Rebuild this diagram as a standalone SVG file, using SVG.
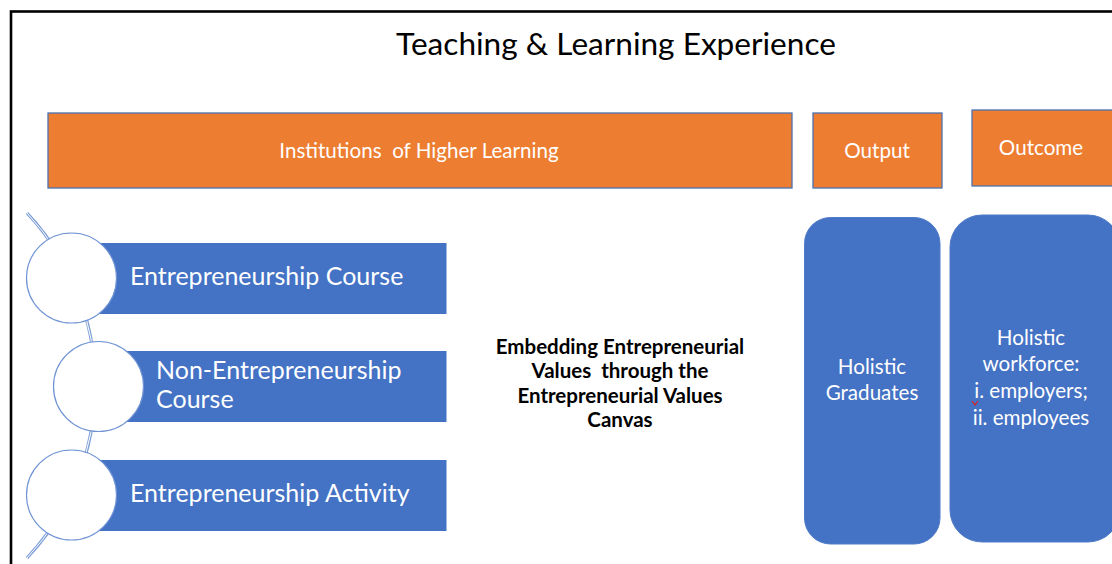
<svg xmlns="http://www.w3.org/2000/svg" width="1112" height="564" viewBox="0 0 1112 564">
<style>
.t{font-family:Lato,"Open Sans","Liberation Sans",sans-serif;white-space:pre;}
.hdr{fill:#ED7D31;stroke:#4A72B0;stroke-width:1.3;}
.wt{fill:#FFFFFF;font-size:20.6px;text-anchor:middle;}
.bar{fill:#4472C4;}
.bt{fill:#FFFFFF;font-size:25px;}
.circ{fill:#FFFFFF;stroke:#6F93D4;stroke-width:1.2;}
.rr{fill:#4472C4;stroke:#4F7AC8;stroke-width:1;}
.ct{fill:#000000;font-size:20.5px;font-weight:bold;text-anchor:middle;}
</style>
<rect x="11" y="11.5" width="1120" height="580" fill="#FFFFFF" stroke="#000000" stroke-width="2.6"/>
<text class="t" x="616" y="55" font-size="31.6" text-anchor="middle" fill="#000000">Teaching &amp; Learning Experience</text>

<g id="connectors">
<path d="M27,213 A252 252 0 0 1 27,558" fill="none" stroke="#7F9FD8" stroke-width="3.2"/>
<path d="M27,213 A252 252 0 0 1 27,558" fill="none" stroke="#FFFFFF" stroke-width="1"/>
</g>

<g id="institutions">
<rect class="hdr" x="48" y="113" width="744" height="75"/>
<text class="t wt" x="419" y="158" xml:space="preserve">Institutions  of Higher Learning</text>
</g>
<g id="output">
<rect class="hdr" x="813" y="113" width="129" height="75"/>
<text class="t wt" x="877" y="158">Output</text>
</g>
<g id="outcome">
<rect class="hdr" x="972" y="110" width="145" height="76"/>
<text class="t wt" x="1041" y="155">Outcome</text>
</g>

<g id="entrepreneurship-course">
<rect class="bar" x="100" y="243" width="346.5" height="71"/>
<circle class="circ" cx="71.5" cy="278" r="45"/>
<text class="t bt" x="130" y="285">Entrepreneurship Course</text>
</g>
<g id="non-entrepreneurship-course">
<rect class="bar" x="127" y="351" width="319.5" height="71"/>
<circle class="circ" cx="98.5" cy="386.5" r="45"/>
<text class="t bt" x="156" y="379">Non-Entrepreneurship</text>
<text class="t bt" x="156" y="408">Course</text>
</g>
<g id="entrepreneurship-activity">
<rect class="bar" x="100" y="460" width="346.5" height="71"/>
<circle class="circ" cx="71.5" cy="495" r="45"/>
<text class="t bt" x="130" y="502">Entrepreneurship Activity</text>
</g>

<g id="embedding">
<text class="t ct" x="620" y="354">Embedding Entrepreneurial</text>
<text class="t ct" x="620" y="378" xml:space="preserve">Values  through the</text>
<text class="t ct" x="620" y="403">Entrepreneurial Values</text>
<text class="t ct" x="620" y="427">Canvas</text>
</g>

<g id="holistic-graduates">
<rect class="rr" x="804.5" y="217.5" width="135.5" height="326.5" rx="26" ry="26"/>
<text class="t wt" x="872" y="374">Holistic</text>
<text class="t wt" x="872" y="400">Graduates</text>
</g>
<g id="holistic-workforce">
<rect class="rr" x="950" y="215" width="170" height="327" rx="32" ry="32"/>
<text class="t wt" x="1031" y="345">Holistic</text>
<text class="t wt" x="1031" y="371">workforce:</text>
<text class="t wt" x="1031" y="398">i. employers;</text>
<text class="t wt" x="1031" y="425">ii. employees</text>
<path d="M972,401 L975,405 L978,401" fill="none" stroke="#E02020" stroke-width="1.2"/>
</g>
</svg>
